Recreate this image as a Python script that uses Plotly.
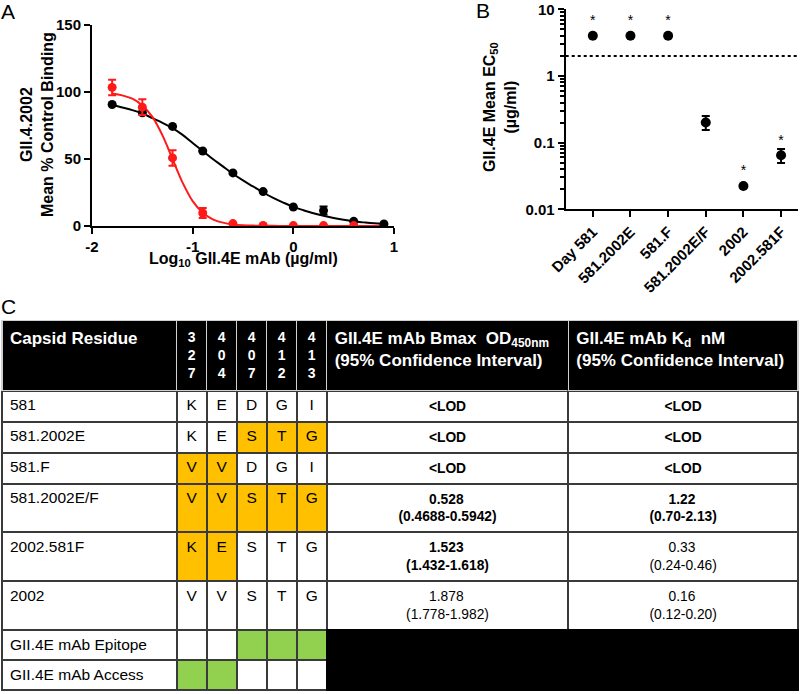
import plotly.graph_objects as go

FONT = "Liberation Sans, Arial, sans-serif"

# ---------------- Panel A data ----------------
dose_log = [-1.8, -1.5, -1.2, -0.9, -0.6, -0.3, 0.0, 0.3, 0.6, 0.9]
black_mean = [90.7, 84.5, 74.3, 56.0, 39.6, 25.7, 14.2, 11.5, 3.5, 1.5]
black_err = [0, 0, 0, 0, 0, 0, 0, 3.0, 0, 0]
red_mean = [103.4, 88.7, 50.8, 9.7, 1.8, 0.4, 0.3, 0.3, 0.3, None]
red_err = [5.8, 5.8, 5.8, 3.8, 0, 0, 0, 0, 0, 0]

fit_x = [-1.8, -1.7, -1.6, -1.5, -1.4, -1.3, -1.2, -1.1, -1.0, -0.9, -0.8, -0.7, -0.6, -0.5,
         -0.4, -0.3, -0.2, -0.1, 0.0, 0.1, 0.2, 0.3, 0.4, 0.5, 0.6, 0.7, 0.8, 0.9]
fit_black = [90.5, 88.5, 86.5, 84.0, 80.5, 77.0, 73.0, 68.0, 62.0, 56.0, 50.0, 44.5, 39.0, 34.0,
             29.5, 25.0, 21.0, 17.5, 14.3, 11.8, 9.5, 7.6, 6.0, 4.6, 3.5, 2.7, 2.0, 1.5]
fit_red = [98.8, 97.5, 95.0, 90.0, 81.4, 67.6, 50.0, 32.4, 18.6, 9.9, 5.0, 2.5, 1.2, 0.6,
           0.3, 0.15, 0.1, 0.05, 0.0, 0.0, 0.0, 0.0, 0.0, 0.0, 0.0, 0.0, 0.0, 0.0]

# ---------------- Panel B data ----------------
constructs = ["Day 581", "581.2002E", "581.F", "581.2002E/F", "2002", "2002.581F"]
ec50 = [4.0, 4.0, 4.0, 0.20, 0.0224, 0.0646]
ec50_err_plus = [0, 0, 0, 0.05, 0, 0.016]
ec50_err_minus = [0, 0, 0, 0.045, 0, 0.015]
significance = ["*", "*", "*", "", "*", "*"]
lod = 2.0

# ---------------- Panel C data ----------------
residue_positions = ["327", "404", "407", "412", "413"]
capsids = ["581", "581.2002E", "581.F", "581.2002E/F", "2002.581F", "2002",
           "GII.4E mAb Epitope", "GII.4E mAb Access"]
residues = [["K", "E", "D", "G", "I"],
            ["K", "E", "S", "T", "G"],
            ["V", "V", "D", "G", "I"],
            ["V", "V", "S", "T", "G"],
            ["K", "E", "S", "T", "G"],
            ["V", "V", "S", "T", "G"],
            ["", "", "", "", ""],
            ["", "", "", "", ""]]
exchanged = [[0, 0, 0, 0, 0],
             [0, 0, 1, 1, 1],
             [1, 1, 0, 0, 0],
             [1, 1, 1, 1, 1],
             [1, 1, 0, 0, 0],
             [0, 0, 0, 0, 0],
             [0, 0, 0, 0, 0],
             [0, 0, 0, 0, 0]]
epitope_flags = [0, 0, 1, 1, 1]
access_flags = [1, 1, 0, 0, 0]
bmax = ["<LOD", "<LOD", "<LOD", "0.528", "1.523", "1.878"]
bmax_ci = ["", "", "", "(0.4688-0.5942)", "(1.432-1.618)", "(1.778-1.982)"]
bmax_bold = [1, 1, 1, 1, 1, 0]
kd = ["<LOD", "<LOD", "<LOD", "1.22", "0.33", "0.16"]
kd_ci = ["", "", "", "(0.70-2.13)", "(0.24-0.46)", "(0.12-0.20)"]
kd_bold = [1, 1, 1, 1, 0, 0]

YELLOW = "#FFC000"
GREEN = "#92D050"
RED = "#FF1A1A"
W, H = 800, 694

fig = go.Figure()

# ---- Panel A traces ----
fig.add_trace(go.Scatter(x=fit_x, y=fit_black, mode="lines", line=dict(color="black", width=2, shape="spline"),
                         xaxis="x", yaxis="y", showlegend=False, hoverinfo="skip"))
fig.add_trace(go.Scatter(x=fit_x, y=fit_red, mode="lines", line=dict(color=RED, width=2, shape="spline"),
                         xaxis="x", yaxis="y", showlegend=False, hoverinfo="skip"))
fig.add_trace(go.Scatter(x=dose_log, y=black_mean, mode="markers",
                         marker=dict(color="black", size=9),
                         error_y=dict(type="data", array=black_err, color="black", thickness=2, width=4),
                         xaxis="x", yaxis="y", showlegend=False))
fig.add_trace(go.Scatter(x=dose_log, y=red_mean, mode="markers",
                         marker=dict(color=RED, size=9),
                         error_y=dict(type="data", array=red_err, color=RED, thickness=2, width=4),
                         xaxis="x", yaxis="y", showlegend=False))

# ---- Panel B traces ----
fig.add_trace(go.Scatter(x=constructs, y=ec50, mode="markers+text", text=significance,
                         textposition="top center", textfont=dict(family=FONT, size=14, color="black"),
                         marker=dict(color="black", size=10),
                         error_y=dict(type="data", symmetric=False, array=ec50_err_plus,
                                      arrayminus=ec50_err_minus, color="black", thickness=2, width=4),
                         xaxis="x2", yaxis="y2", showlegend=False))

# ---- Panel C table ----
def bold(s):
    return "<b>" + s + "</b>"

def esc(s):
    return s.replace("<", "&lt;")

# approximate glyph advance widths (em) used only to centre the first line over the second
CHAR_EM = {"(": 0.333, ")": 0.333, ".": 0.278, "-": 0.333}

def text_em(s):
    return sum(CHAR_EM.get(ch, 0.556) for ch in s)

n_body = len(capsids)
res_cols = []
res_fills = []
for j in range(len(residue_positions)):
    vals = []
    fills = []
    for i in range(n_body):
        vals.append(residues[i][j])
        if i < 6:
            fills.append(YELLOW if exchanged[i][j] else "white")
        elif i == 6:
            fills.append(GREEN if epitope_flags[j] else "white")
        else:
            fills.append(GREEN if access_flags[j] else "white")
    res_cols.append(vals)
    res_fills.append(fills)

def value_col(vals, cis, bolds):
    out = []
    for v, c, b in zip(vals, cis, bolds):
        if c:
            pad = int(round((text_em(c) - text_em(v)) / 2 / 0.278))
            t = "\u00a0" * pad + esc(v) + "<br>" + c
        else:
            t = esc(v)
        out.append(bold(t) if b else t)
    return out + ["", ""]

bmax_col = value_col(bmax, bmax_ci, bmax_bold)
kd_col = value_col(kd, kd_ci, kd_bold)
black_tail = ["white"] * 6 + ["black", "black"]

header_vals = [bold("Capsid Residue")] + \
    [bold("<br>".join(list(p))) for p in residue_positions] + \
    [bold("GII.4E mAb Bmax\u00a0 OD<sub>450nm</sub><br>(95% Confidence Interval)"),
     bold("GII.4E mAb K<sub>d</sub>\u00a0 nM<br>(95% Confidence Interval)")]

line_grey = "#3a3a3a"
cell_line_colors = [[line_grey] * n_body] * 6 + \
    [[line_grey] * 6 + ["black", "black"]] * 2

fig.add_trace(go.Table(
    domain=dict(x=[0.0025, 0.9975], y=[0.0, 1 - 320.5 / H]),
    columnwidth=[174.7, 30, 30, 30, 30, 30, 241.6, 229.7],
    header=dict(values=header_vals, fill=dict(color="black"),
                line=dict(color="#cfcfcf", width=1.5),
                font=dict(family=FONT, size=[17, 14, 14, 14, 14, 14, 17, 17], color="white"),
                align=["left", "center", "center", "center", "center", "center", "left", "left"],
                height=70),
    cells=dict(values=[capsids] + res_cols + [bmax_col, kd_col],
               fill=dict(color=[["white"] * n_body] + res_fills + [black_tail, black_tail]),
               line=dict(color=cell_line_colors, width=2),
               font=dict(family=FONT, size=[15.5, 15.5, 15.5, 15.5, 15.5, 15.5, 13.8, 13.8], color="black"),
               align=["left", "center", "center", "center", "center", "center", "center", "center"],
               height=30)
))

axis_common = dict(showline=True, linecolor="black", linewidth=2, ticks="outside", ticklen=6,
                   tickwidth=2, tickcolor="black", showgrid=False, zeroline=False, automargin=False,
                   tickfont=dict(family=FONT, size=15, color="black"))

minor_log_ticks = [m * 10.0 ** e for e in (-2, -1, 0) for m in range(2, 10)]

def ann(text, x, y, size=16, angle=0):
    return dict(text=text, x=x / W, y=1 - y / H, xref="paper", yref="paper", showarrow=False,
                font=dict(family=FONT, size=size, color="black"), xanchor="center",
                yanchor="middle", textangle=angle)

fig.update_layout(
    width=W, height=H,
    margin=dict(l=0, r=0, t=0, b=0),
    paper_bgcolor="white", plot_bgcolor="white",
    font=dict(family=FONT, color="black"),
    xaxis=dict(domain=[92 / W, 394 / W], range=[-2, 1], tickvals=[-2, -1, 0, 1],
               ticktext=["<b>-2</b>", "<b>-1</b>", "<b>0</b>", "<b>1</b>"], anchor="y",
               **axis_common),
    yaxis=dict(domain=[1 - 226 / H, 1 - 25 / H], range=[0, 150], tickvals=[0, 50, 100, 150],
               ticktext=["<b>0</b>", "<b>50</b>", "<b>100</b>", "<b>150</b>"], anchor="x",
               **axis_common),
    xaxis2=dict(domain=[565.7 / W, 798 / W], range=[-0.72, 5.45], type="category",
                categoryorder="array", categoryarray=constructs, tickangle=-45,
                tickvals=constructs, ticktext=[bold(c) for c in constructs], anchor="y2",
                **axis_common),
    yaxis2=dict(domain=[1 - 209.3 / H, 1 - 9.3 / H], type="log", range=[-2, 1],
                tickvals=[0.01, 0.1, 1, 10], ticktext=["<b>0.01</b>", "<b>0.1</b>", "<b>1</b>", "<b>10</b>"],
                minor=dict(ticks="outside", ticklen=4, tickwidth=1.5, tickcolor="black", showgrid=False,
                           tickvals=minor_log_ticks),
                anchor="x2",
                **axis_common),
    shapes=[dict(type="line", xref="x2 domain", yref="y2", x0=0, x1=1, y0=lod, y1=lod,
                 line=dict(color="black", width=2, dash="dot"))],
    annotations=[
        ann("<b>Log<sub>10</sub> GII.4E mAb (µg/ml)</b>", 243, 259),
        ann("<b>GII.4.2002<br>Mean % Control Binding</b>", 37, 125, angle=-90),
        ann("<b>GII.4E Mean EC<sub>50</sub><br>(µg/ml)</b>", 500, 107, angle=-90),
        ann("A", 8, 12, size=21),
        ann("B", 483, 10, size=21),
        ann("C", 8, 306, size=21),
    ],
)

fig.write_html("out.html", config={"displayModeBar": False},
               post_script="document.body.style.margin='0px';")
